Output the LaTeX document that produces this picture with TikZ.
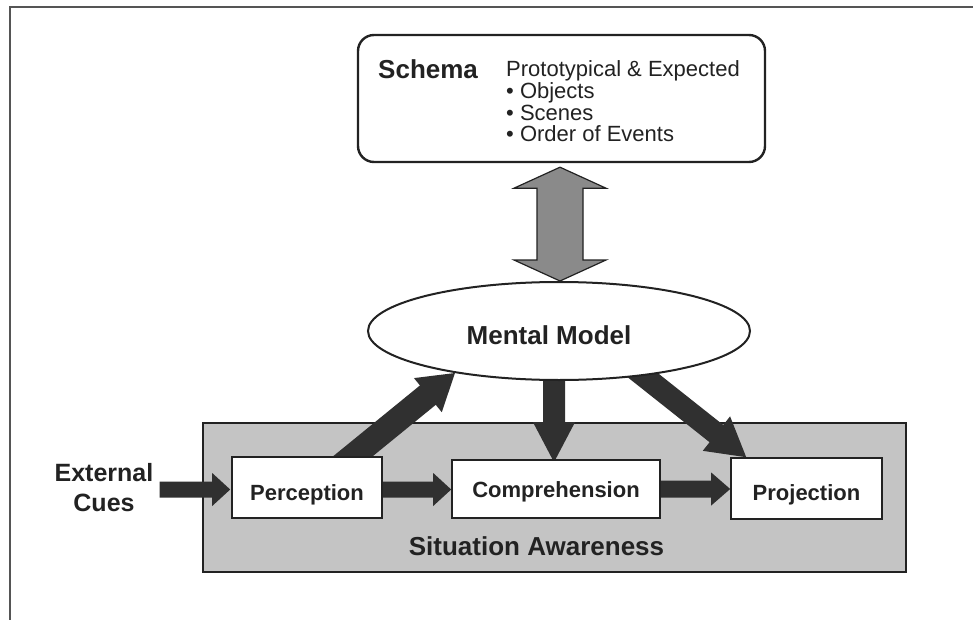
\documentclass[tikz,border=0pt]{standalone}
\usepackage{fontspec}
\setmainfont{Liberation Sans}
\usetikzlibrary{calc,shapes.geometric}
\pgfdeclarelayer{back}
\pgfdeclarelayer{mid}
\pgfsetlayers{back,mid,main}
\definecolor{ink}{HTML}{222222}
\definecolor{arrowdark}{HTML}{303030}
\definecolor{sagray}{HTML}{C4C4C4}
\definecolor{dblgray}{HTML}{8A8A8A}
\definecolor{framegray}{HTML}{555555}
\newcommand\fsz[1]{\fontsize{#1}{#1}\selectfont}
% block arrow: #1 style, #2 start, #3 tip, #4 shaft width, #5 head width, #6 head length
\newcommand\blockarrow[6]{%
  \coordinate (ba-h) at ($(#3)!#6!(#2)$);
  \path[#1] ($(#2)!#4/2!90:(#3)$) -- ($(ba-h)!#4/2!90:(#3)$) -- ($(ba-h)!#5/2!90:(#3)$)
    -- (#3) -- ($(ba-h)!#5/2!-90:(#3)$) -- ($(ba-h)!#4/2!-90:(#3)$) -- ($(#2)!#4/2!-90:(#3)$) -- cycle;
}
% double-headed block arrow
\newcommand\dblblockarrow[6]{%
  \coordinate (bb-h1) at ($(#2)!#6!(#3)$);
  \coordinate (bb-h2) at ($(#3)!#6!(#2)$);
  \path[#1] (#2) -- ($(bb-h1)!#5/2!90:(#3)$) -- ($(bb-h1)!#4/2!90:(#3)$) -- ($(bb-h2)!#4/2!90:(#3)$)
    -- ($(bb-h2)!#5/2!90:(#3)$) -- (#3) -- ($(bb-h2)!#5/2!-90:(#3)$) -- ($(bb-h2)!#4/2!-90:(#3)$)
    -- ($(bb-h1)!#4/2!-90:(#3)$) -- ($(bb-h1)!#5/2!-90:(#3)$) -- cycle;
}
\begin{document}
\begin{tikzpicture}[x=1pt,y=-1pt,
  schemabox/.style={draw=ink, line width=2.4pt, rounded corners=16pt, fill=white, inner sep=0pt},
  sabox/.style={draw=ink, line width=2pt, fill=sagray, inner sep=0pt},
  stagebox/.style={draw=ink, line width=1.6pt, fill=white, inner sep=0pt, text=ink, font=\bfseries\fsz{22}},
  mmell/.style={ellipse, draw=ink, line width=2pt, fill=white, inner sep=0pt},
  lbl/.style={inner sep=0pt, text=ink},
  blockfill/.style={fill=arrowdark},
  dblfill/.style={fill=dblgray, draw=ink, line width=1.2pt, line join=miter},
  framestyle/.style={draw=framegray, line width=1.5pt}]
\useasboundingbox (0,0) rectangle (973,620);
\begin{pgfonlayer}{back}
  \fill[white] (0,0) rectangle (973,620);
  \node[sabox, minimum width=703pt, minimum height=149pt] (sa) at (554.5,497.5) {};
\end{pgfonlayer}
\draw[framestyle] (10,620) -- (10,7) -- (973,7);

% Schema
\node[schemabox, minimum width=407pt, minimum height=127pt] (schema) at (561.5,98.5) {};
\node[lbl, anchor=base west, font=\bfseries\fsz{26}] (schtitle) at (378,79) {Schema};
\node[lbl, anchor=north west, align=left, font={\fontsize{22}{21.7}\selectfont}] (schlist) at (506,60.5)
  {Prototypical \& Expected\\• Objects\\• Scenes\\• Order of Events};

% Mental model
\node[mmell, minimum width=382pt, minimum height=98pt] (mm) at (559,331) {};
\node[lbl, anchor=base, font=\bfseries\fsz{26}] (mmtext) at (549,344) {Mental Model};

% Stages
\node[stagebox, minimum width=150pt, minimum height=61pt, text height=26.4pt, text depth=0pt] (perc) at (307,487.5) {Perception};
\node[stagebox, minimum width=208pt, minimum height=58pt, text height=16.6pt, text depth=0pt] (comp) at (556,489) {Comprehension};
\node[stagebox, minimum width=151pt, minimum height=61pt, text height=24.4pt, text depth=0pt] (proj) at (806.5,488.5) {Projection};
\node[lbl, anchor=base, font=\bfseries\fsz{26}] (satext) at (536.5,555) {Situation Awareness};

% External cues
\node[lbl, anchor=north, align=center, font={\bfseries\fontsize{25}{30}\selectfont}] (ext) at (104,463) {External\\Cues};

% Arrows
\coordinate (a1e) at ($(perc.west)+(-1,2)$);
\coordinate (a1s) at ($(ext.east |- a1e)+(6,0)$);
\coordinate (a2s) at ($(perc.east)+(0,2)$);
\coordinate (a2e) at (comp.west |- a2s);
\coordinate (a3s) at (comp.east);
\coordinate (a3e) at (proj.west |- a3s);
\coordinate (a4s) at ($(perc.north)+(30.5,12.6)$);
\coordinate (a4e) at (mm.202);
\coordinate (a5e) at ($(comp.north)+(-2,3)$);
\coordinate (a5s) at (a5e |- mm.center);
\coordinate (a6s) at ($(mm.332)+(-19.5,-15.6)$);
\coordinate (a6e) at ($(proj.north west)+(16,0)$);
\coordinate (d1) at ($(schema.south)+(-1.5,4)$);
\coordinate (d2) at (d1 |- mm.north);
\begin{pgfonlayer}{mid}
  \blockarrow{blockfill}{a1s}{a1e}{16pt}{33pt}{18pt}
  \blockarrow{blockfill}{a2s}{a2e}{16pt}{33pt}{18pt}
  \blockarrow{blockfill}{a3s}{a3e}{17pt}{33pt}{19pt}
  \blockarrow{blockfill}{a4s}{a4e}{25pt}{44pt}{35pt}
  \blockarrow{blockfill}{a5s}{a5e}{22pt}{42pt}{40pt}
  \blockarrow{blockfill}{a6s}{a6e}{22pt}{44pt}{38pt}
  \dblblockarrow{dblfill}{d1}{d2}{46pt}{92pt}{21pt}
\end{pgfonlayer}
\end{tikzpicture}
\end{document}
